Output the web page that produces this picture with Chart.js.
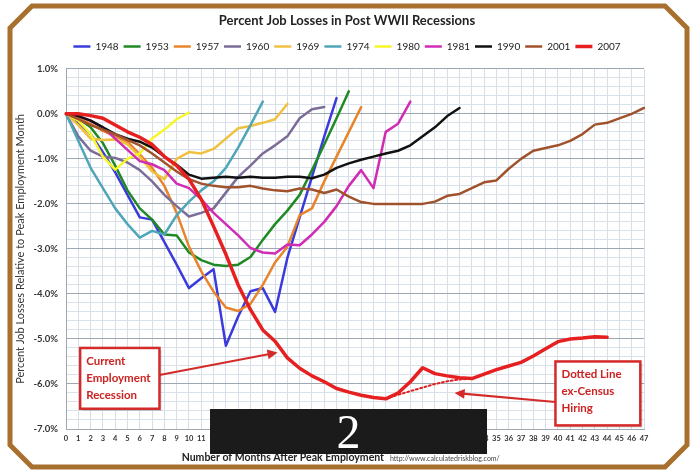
<!DOCTYPE html>
<html>
<head>
<meta charset="utf-8">
<title>Percent Job Losses in Post WWII Recessions</title>
<script src="https://cdn.jsdelivr.net/npm/chart.js@4.4.1/dist/chart.umd.min.js"></script>
<style>
  html, body { margin: 0; padding: 0; background: #fff; }
  #wrap { position: relative; width: 694px; height: 474px; overflow: hidden; }
  #grafico { position: absolute; left: 0; top: 0; }
  #tarja {
    position: absolute; left: 210px; top: 409px; width: 277px; height: 45px;
    background: #1b1b1b; color: #fff; text-align: center;
    font: 48px "Liberation Serif", "DejaVu Serif", serif; line-height: 46px;
  }
</style>
</head>
<body>
<div id="wrap">
  <canvas id="grafico" width="694" height="474"></canvas>
  <div id="tarja">2</div>
</div>
<script>
// Months after peak employment (x axis labels)
const months = ['0','1','2','3','4','5','6','7','8','9','10','11','12','13','14','15','16','17','18','19',
  '20','21','22','23','24','25','26','27','28','29','30','31','32','33','34','35','36','37','38','39',
  '40','41','42','43','44','45','46','47'];

// Y axis tick labels (percent)
const yTicks = [1, 0, -1, -2, -3, -4, -5, -6, -7];

// Percent job losses relative to peak, one array per recession
const s1948 = [0, -0.2, -0.45, -0.85, -1.3, -1.8, -2.3, -2.35, -2.85, -3.35, -3.87, -3.65, -3.45, -5.15, -4.5,
  -3.94, -3.87, -4.4, -3.2, -2.3, -1.4, -0.5, 0.35];
const s1953 = [0, -0.1, -0.3, -0.65, -1.15, -1.7, -2.1, -2.35, -2.68, -2.7, -3.08, -3.25, -3.35, -3.38, -3.35,
  -3.18, -2.8, -2.45, -2.15, -1.8, -1.25, -0.68, -0.1, 0.5];
const s1957 = [0, -0.1, -0.22, -0.38, -0.5, -0.62, -0.9, -1.2, -1.6, -2.2, -2.95, -3.5, -3.95, -4.3, -4.38,
  -4.22, -3.8, -3.3, -2.95, -2.25, -2.1, -1.5, -0.95, -0.4, 0.15];
const s1960 = [0, -0.5, -0.82, -0.95, -0.98, -1.08, -1.25, -1.5, -1.8, -2.05, -2.28, -2.2, -2.1, -1.75, -1.4,
  -1.15, -0.88, -0.7, -0.5, -0.1, 0.1, 0.15];
const s1969 = [0, -0.25, -0.55, -0.58, -0.57, -0.68, -0.95, -1.28, -1.45, -1.0, -0.85, -0.88, -0.78, -0.55, -0.32,
  -0.27, -0.2, -0.12, 0.22];
const s1974 = [0, -0.6, -1.2, -1.65, -2.1, -2.45, -2.75, -2.6, -2.68, -2.25, -1.95, -1.7, -1.5, -1.2, -0.75,
  -0.25, 0.27];
const s1980 = [0, -0.15, -0.45, -0.95, -1.24, -1.0, -0.88, -0.55, -0.35, -0.12, 0.03];
const s1981 = [0, -0.05, -0.15, -0.3, -0.55, -0.8, -1.05, -1.12, -1.25, -1.55, -1.65, -1.9, -2.2, -2.45, -2.7,
  -2.98, -3.08, -3.1, -2.9, -2.92, -2.68, -2.4, -2.05, -1.6, -1.25, -1.65, -0.4, -0.22, 0.27];
const s1990 = [0, -0.05, -0.15, -0.3, -0.45, -0.55, -0.62, -0.75, -0.95, -1.13, -1.35, -1.44, -1.42, -1.4, -1.42,
  -1.4, -1.42, -1.42, -1.4, -1.4, -1.43, -1.35, -1.2, -1.1, -1.02, -0.95, -0.88, -0.82, -0.7, -0.5,
  -0.3, -0.05, 0.13];
const s2001 = [0, -0.12, -0.25, -0.35, -0.45, -0.58, -0.7, -0.88, -1.08, -1.28, -1.45, -1.55, -1.6, -1.63, -1.63,
  -1.6, -1.66, -1.7, -1.72, -1.66, -1.68, -1.76, -1.68, -1.84, -1.96, -2.0, -2.0, -2.0, -2.0, -2.0,
  -1.95, -1.82, -1.78, -1.65, -1.52, -1.48, -1.22, -1.0, -0.82, -0.76, -0.7, -0.6, -0.45, -0.24, -0.2,
  -0.1, 0.0, 0.13];
const s2007 = [0, 0, -0.04, -0.1, -0.25, -0.4, -0.52, -0.68, -0.95, -1.15, -1.45, -1.9, -2.5, -3.12, -3.8,
  -4.35, -4.8, -5.05, -5.42, -5.65, -5.82, -5.95, -6.1, -6.18, -6.25, -6.3, -6.33, -6.2, -5.95, -5.64,
  -5.77, -5.82, -5.86, -5.88, -5.78, -5.68, -5.6, -5.52, -5.38, -5.22, -5.06, -5.0, -4.98, -4.95, -4.96];
// 2007 excluding temporary Census hiring (dotted line)
const s2007exCensus = [null, null, null, null, null, null, null, null, null, null, null, null, null, null, null,
  null, null, null, null, null, null, null, null, null, null, null, -6.33, -6.24, -6.16, -6.08,
  -6.0, -5.94, -5.9, -5.88];

// Builds one line dataset
function makeSeries(label, values, color, width) {
  return {
    label: label,
    data: values,
    borderColor: color,
    backgroundColor: color,
    borderWidth: width,
    pointRadius: 0,
    fill: false,
    yAxisID: 'y'
  };
}

// Later recessions first so they are drawn on top (legend is reversed)
const dotted = makeSeries('ex-Census', s2007exCensus, '#e02222', 2);
dotted.borderDash = [2, 2.5];
const datasets = [
  dotted,
  makeSeries('2007', s2007, '#e62020', 3.5),
  makeSeries('2001', s2001, '#a0522d', 2.5),
  makeSeries('1990', s1990, '#111111', 2.5),
  makeSeries('1981', s1981, '#d02cb4', 2.5),
  makeSeries('1980', s1980, '#f6f628', 2.5),
  makeSeries('1974', s1974, '#4ea6b8', 2.5),
  makeSeries('1969', s1969, '#f0c040', 2.5),
  makeSeries('1960', s1960, '#7b6d98', 2.5),
  makeSeries('1957', s1957, '#e8842c', 2.5),
  makeSeries('1953', s1953, '#1f8a24', 2.5),
  makeSeries('1948', s1948, '#3b3bdc', 2.5)
];

function isMajor(v) {
  return yTicks.some(t => Math.abs(v - t) < 1e-6);
}

// Brown octagon frame behind the chart
const framePlugin = {
  id: 'frame',
  beforeDraw(chart) {
    const ctx = chart.ctx;
    ctx.save();
    ctx.fillStyle = '#ffffff';
    ctx.fillRect(0, 0, chart.width, chart.height);
    const l = 10, t = 6, r = 687, b = 467, c = 22;
    ctx.beginPath();
    ctx.moveTo(l + c, t);
    ctx.lineTo(r - c, t);
    ctx.lineTo(r, t + c);
    ctx.lineTo(r, b - c);
    ctx.lineTo(r - c, b);
    ctx.lineTo(l + c, b);
    ctx.lineTo(l, b - c);
    ctx.lineTo(l, t + c);
    ctx.closePath();
    ctx.lineWidth = 5;
    ctx.strokeStyle = '#a8702e';
    ctx.stroke();
    ctx.restore();
  }
};

function drawArrow(ctx, x1, y1, x2, y2) {
  const ang = Math.atan2(y2 - y1, x2 - x1);
  const len = 10, half = 5;
  ctx.beginPath();
  ctx.moveTo(x1, y1);
  ctx.lineTo(x2 - Math.cos(ang) * len * 0.8, y2 - Math.sin(ang) * len * 0.8);
  ctx.stroke();
  ctx.beginPath();
  ctx.moveTo(x2, y2);
  ctx.lineTo(x2 - Math.cos(ang) * len + Math.sin(ang) * half, y2 - Math.sin(ang) * len - Math.cos(ang) * half);
  ctx.lineTo(x2 - Math.cos(ang) * len - Math.sin(ang) * half, y2 - Math.sin(ang) * len + Math.cos(ang) * half);
  ctx.closePath();
  ctx.fill();
}

function drawNoteBox(ctx, x1, y1, x2, y2, lines) {
  ctx.fillStyle = 'rgba(0,0,0,0.18)';
  ctx.fillRect(x1 + 2, y1 + 2, x2 - x1, y2 - y1);
  ctx.fillStyle = '#ffffff';
  ctx.fillRect(x1, y1, x2 - x1, y2 - y1);
  ctx.lineWidth = 2.5;
  ctx.strokeStyle = '#d42a2a';
  ctx.strokeRect(x1, y1, x2 - x1, y2 - y1);
  ctx.fillStyle = '#cc2222';
  ctx.font = 'bold 11.5px Lato';
  ctx.textAlign = 'left';
  ctx.textBaseline = 'middle';
  lines.forEach((txt, i) => ctx.fillText(txt, x1 + 6, y1 + 13 + i * 17));
}

// Red callouts and the x axis title with the blog address
const notesPlugin = {
  id: 'notes',
  afterDatasetsDraw(chart) {
    const ctx = chart.ctx;
    const x = chart.scales.x;
    const y = chart.scales.y;
    ctx.save();
    ctx.strokeStyle = '#d42a2a';
    ctx.fillStyle = '#d42a2a';
    ctx.lineWidth = 2.2;
    drawArrow(ctx, x.getPixelForValue(7.6), y.getPixelForValue(-5.8), x.getPixelForValue(17.2), y.getPixelForValue(-5.3));
    drawArrow(ctx, x.getPixelForValue(39.8), y.getPixelForValue(-6.4), x.getPixelForValue(31.6), y.getPixelForValue(-6.2));
    drawNoteBox(ctx, x.getPixelForValue(1.15), y.getPixelForValue(-5.2), x.getPixelForValue(7.6), y.getPixelForValue(-6.55),
      ['Current', 'Employment', 'Recession']);
    drawNoteBox(ctx, x.getPixelForValue(39.8), y.getPixelForValue(-5.5), x.getPixelForValue(46.7), y.getPixelForValue(-6.92),
      ['Dotted Line', 'ex-Census', 'Hiring']);
    ctx.restore();
  },
  afterDraw(chart) {
    const ctx = chart.ctx;
    ctx.save();
    ctx.fillStyle = '#222';
    ctx.textBaseline = 'middle';
    ctx.font = 'bold 10.5px Lato';
    ctx.textAlign = 'right';
    ctx.fillText('Number of Months After Peak Employment', 384, 458);
    ctx.font = '7px Lato';
    ctx.fillStyle = '#444';
    ctx.textAlign = 'left';
    ctx.fillText('http://www.calculatedriskblog.com/', 390, 459);
    ctx.restore();
  }
};

const config = {
  type: 'line',
  data: { labels: months, datasets: datasets },
  options: {
    responsive: false,
    animation: false,
    layout: { padding: { left: 12, right: 12, top: 4, bottom: 10 } },
    elements: { line: { tension: 0, borderJoinStyle: 'round', borderCapStyle: 'round' } },
    plugins: {
      title: {
        display: true,
        text: 'Percent Job Losses in Post WWII Recessions',
        color: '#222',
        font: { family: 'Lato', size: 13, weight: 'bold' },
        padding: { top: 9, bottom: 8 }
      },
      subtitle: { display: true, text: '', font: { size: 1 }, padding: { top: 0, bottom: 6 }, weight: 500 },
      legend: {
        reverse: true,
        labels: {
          usePointStyle: true,
          pointStyle: 'line',
          pointStyleWidth: 17,
          padding: 5,
          color: '#222',
          font: { family: 'Lato', size: 10 },
          filter: item => item.text !== 'ex-Census'
        }
      },
      tooltip: { enabled: false }
    },
    scales: {
      x: {
        ticks: {
          autoSkip: false, maxRotation: 0, minRotation: 0, padding: 5, color: '#333',
          font: { family: 'Lato', size: 7.5, weight: 'bold' }
        },
        grid: { color: '#d6dee8', drawTicks: false },
        border: { color: '#9ea8b3' },
        afterFit: scale => { scale.height = 35; }
      },
      y: {
        min: -7, max: 1,
        ticks: {
          stepSize: 0.2, autoSkip: false, padding: 8, color: '#333',
          font: { family: 'Lato', size: 9.5, weight: 'bold' },
          callback: v => isMajor(v) ? v.toFixed(1) + '%' : ''
        },
        grid: { color: c => isMajor(c.tick.value) ? '#9ea8b3' : '#d9e1ea', drawTicks: false },
        border: { color: '#9ea8b3' },
        title: {
          display: true,
          text: 'Percent Job Losses Relative to Peak Employment Month',
          color: '#333',
          font: { family: 'Lato', size: 11 },
          padding: { top: 2, bottom: 0 }
        },
        afterFit: scale => { scale.width = 54; }
      },
      yRight: {
        position: 'right', min: -7, max: 1,
        grid: { display: false }, border: { display: false }, ticks: { display: false },
        afterFit: scale => { scale.width = 38; }
      }
    }
  },
  plugins: [framePlugin, notesPlugin]
};

let myChart = new Chart(document.getElementById('grafico'), config);
</script>
</body>
</html>
